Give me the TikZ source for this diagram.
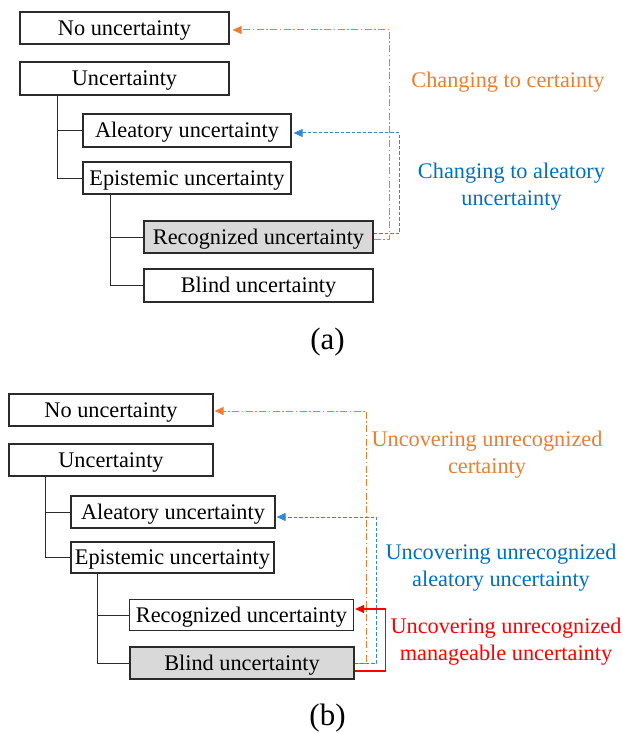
\documentclass[tikz,border=0pt]{standalone}
\usepackage{fontspec}
\setmainfont{Liberation Serif}
\usetikzlibrary{arrows.meta}

\definecolor{certorange}{HTML}{ED7D31}
\definecolor{aleablue}{HTML}{0070C0}
\definecolor{alealine}{HTML}{2F8AD6}
\definecolor{manred}{RGB}{255,0,0}
\definecolor{boxgray}{HTML}{D9D9D9}
\definecolor{boxedge}{HTML}{2B2B2B}

\tikzset{
  ubox/.style={draw=boxedge, line width=1.2pt, fill=white, inner sep=0pt,
    font=\fontsize{22.3}{26}\selectfont, text height=14.8pt, text depth=0pt},
  shaded/.style={fill=boxgray},
  tree/.style={draw=boxedge, line width=1pt},
  tipshape/.style={-{Triangle[length=9pt,width=8pt]}},
  toCertain/.style={tipshape, color=certorange, line width=1pt,
    dash pattern=on 7pt off 2.5pt on 1.5pt off 2.5pt},
  toAleatory/.style={tipshape, color=alealine, line width=1pt,
    dash pattern=on 3.5pt off 2pt},
  toManage/.style={tipshape, color=manred, line width=1.2pt},
  lbl/.style={anchor=base, align=center, inner sep=0pt,
    font=\fontsize{22.3}{27.5}\selectfont},
  caption/.style={anchor=base, inner sep=0pt, font=\fontsize{31}{36}\selectfont}
}

\begin{document}
\begin{tikzpicture}[x=1pt, y=-1pt]
\useasboundingbox (0,0) rectangle (622,733);

% ---------------- (a) ----------------
\node[ubox, minimum width=209pt, minimum height=32pt] (nou_a) at (124.5,28) {No uncertainty};
\node[ubox, minimum width=209pt, minimum height=33pt] (unc_a) at (124.5,78.5) {Uncertainty};
\node[ubox, minimum width=208pt, minimum height=33pt] (ale_a) at (187,130.5) {Aleatory uncertainty};
\node[ubox, minimum width=208pt, minimum height=32pt] (epi_a) at (187,178) {Epistemic uncertainty};
\node[ubox, shaded, minimum width=229pt, minimum height=32pt] (rec_a) at (258.5,237) {Recognized uncertainty};
\node[ubox, minimum width=229pt, minimum height=33pt] (bli_a) at (258.5,285.5) {Blind uncertainty};

% hierarchy lines
\draw[tree] (epi_a.west) -| ([xshift=-25pt]ale_a.west |- unc_a.south) -- ++(-18,0);
\draw[tree] (ale_a.west) -- ++(-25,0);
\draw[tree] (bli_a.west) -| ([xshift=-33pt]rec_a.west |- epi_a.south);
\draw[tree] (rec_a.west) -- ++(-33,0);

% transitions
\draw[toCertain, shorten >=3pt] ([yshift=-2pt]rec_a.east) -- ++(16,0) |- ([yshift=-2pt]nou_a.east);
\draw[toAleatory, shorten >=2pt] ([yshift=4pt]rec_a.east) -- ++(26,0) |- ([yshift=-2.5pt]ale_a.east);

% labels are anchored at the baseline of their last line
\node[lbl, text=certorange] (lbl_a1) at (508,88) {Changing to certainty};
\node[lbl, text=aleablue] (lbl_a2) at (511.5,205.5) {Changing to aleatory\\uncertainty};

\node[caption] (cap_a) at (327.5,349) {(a)};

% ---------------- (b) ----------------
\node[ubox, minimum width=204pt, minimum height=32pt] (nou_b) at (111,410) {No uncertainty};
\node[ubox, minimum width=204pt, minimum height=32pt] (unc_b) at (111,460) {Uncertainty};
\node[ubox, minimum width=204pt, minimum height=32pt] (ale_b) at (173,512) {Aleatory uncertainty};
\node[ubox, minimum width=203pt, minimum height=31pt] (epi_b) at (172.5,557.5) {Epistemic uncertainty};
\node[ubox, minimum width=224pt, minimum height=31pt] (rec_b) at (241.5,615) {Recognized uncertainty};
\node[ubox, shaded, minimum width=224pt, minimum height=32pt] (bli_b) at (242,663) {Blind uncertainty};

% hierarchy lines
\draw[tree] (epi_b.west) -| ([xshift=-25pt]ale_b.west |- unc_b.south) -- ++(-18,0);
\draw[tree] (ale_b.west) -- ++(-25,0);
\draw[tree] (bli_b.west) -| ([xshift=-31pt]rec_b.west |- epi_b.south);
\draw[tree] (rec_b.west) -- ++(-31,0);

% transitions
\draw[toCertain, shorten >=1pt] (bli_b.east) -- ++(12,0) |- ([yshift=-1pt]nou_b.east);
\draw[toAleatory, shorten >=1pt] (bli_b.east) -- ++(22,0) |- ([yshift=-5pt]ale_b.east);
\draw[toManage, shorten >=1pt] ([yshift=-8pt]bli_b.east) -- ++(31,0) |- ([yshift=6pt]rec_b.east);

\node[lbl, text=certorange] (lbl_b1) at (487,473.5) {Uncovering unrecognized\\certainty};
\node[lbl, text=aleablue] (lbl_b2) at (501,586.5) {Uncovering unrecognized\\aleatory uncertainty};
\node[lbl, text=manred] (lbl_b3) at (506,660.5) {Uncovering unrecognized\\manageable uncertainty};

\node[caption] (cap_b) at (327.5,725) {(b)};
\end{tikzpicture}
\end{document}
